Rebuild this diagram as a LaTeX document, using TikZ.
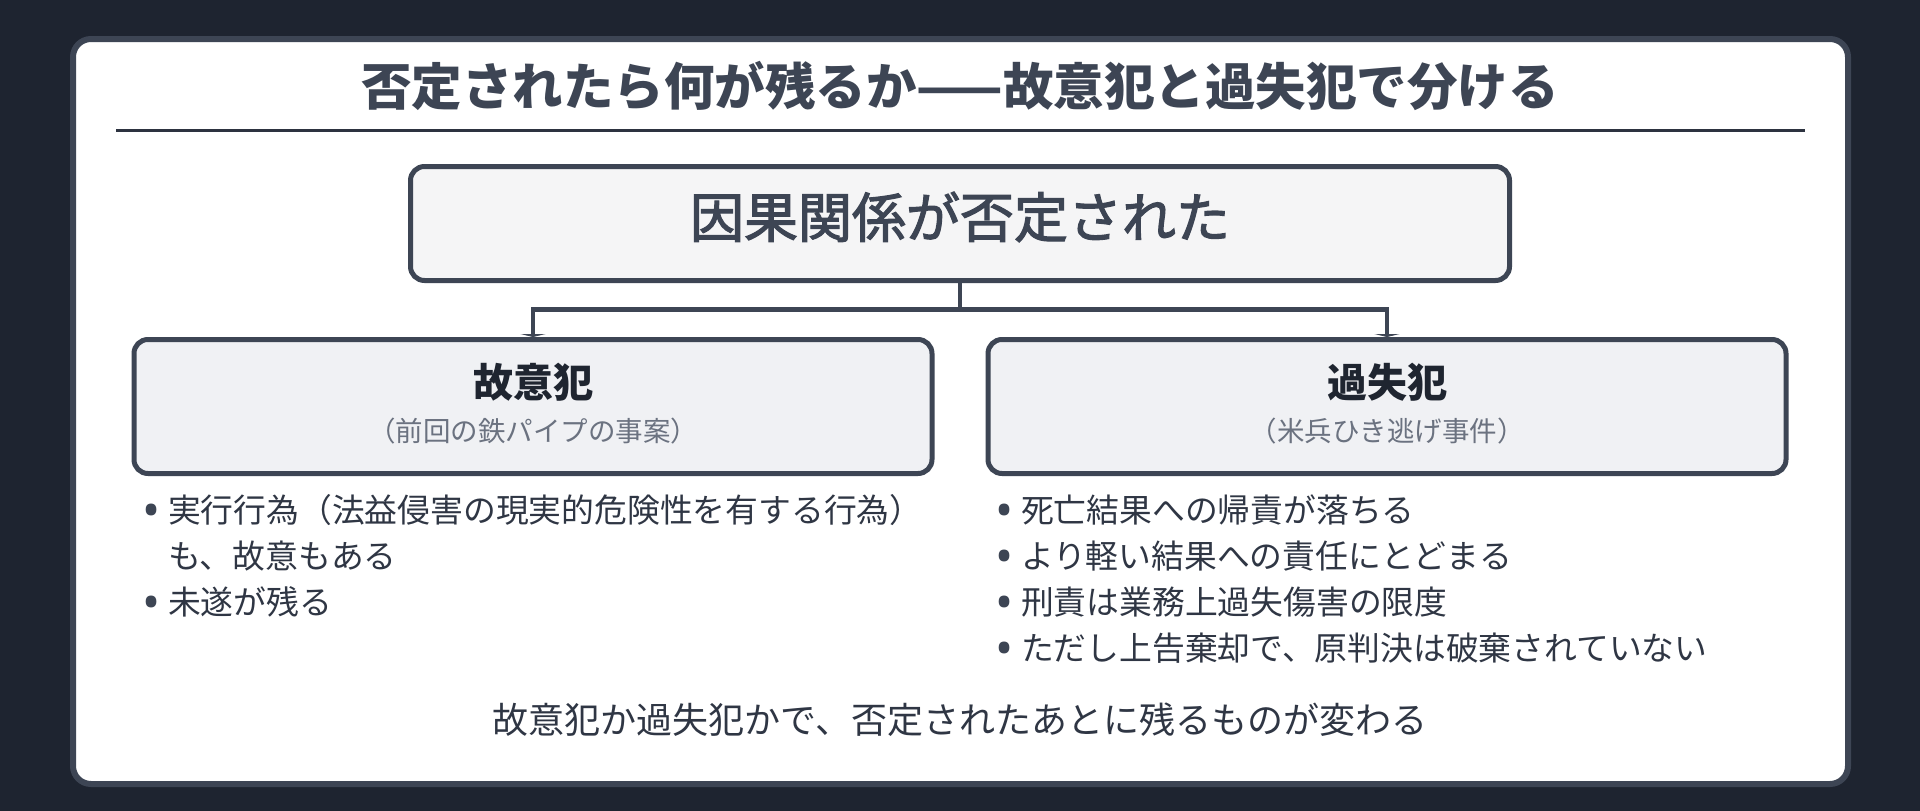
\documentclass[tikz,border=0pt]{standalone}
\usepackage{fontspec}
\setmainfont{Noto Sans CJK JP}
\newfontfamily\latinf{Noto Sans}
\newfontfamily\jpmed[FakeBold=2.2]{Noto Sans CJK JP}
\usetikzlibrary{arrows.meta}
\definecolor{bgdark}{HTML}{1E2430}
\definecolor{framec}{HTML}{3D4554}
\definecolor{rulec}{HTML}{2D3340}
\definecolor{topfill}{HTML}{F5F5F6}
\definecolor{boxfill}{HTML}{F0F1F4}
\definecolor{headc}{HTML}{1F2530}
\definecolor{subc}{HTML}{6B7280}
\definecolor{bodyc}{HTML}{2F3644}
\newcommand{\bul}{\makebox[20pt][c]{\raisebox{-5pt}{\fontsize{48}{48}\selectfont\latinf\color{framec}•}}\hspace{6pt}}
\begin{document}
\begin{tikzpicture}[x=1pt,y=-1pt,
  txt/.style={inner sep=0pt, outer sep=0pt},
  fs/.style={font=\fontsize{#1}{#1}\selectfont, text height=0.88*#1pt, text depth=0.12*#1pt},
  boxstyle/.style={draw=framec, line width=5pt, rounded corners=14pt, inner sep=0pt},
  conn/.style={draw=framec, line width=4.5pt},
  titlef/.style={txt, fs=50.5, font=\fontsize{50.5}{60}\selectfont\bfseries, text=framec},
  causef/.style={txt, fs=54, font=\fontsize{54}{64}\selectfont\jpmed, text=framec},
  headf/.style={txt, fs=40, font=\fontsize{40}{48}\selectfont\bfseries, text=headc},
  subf/.style={txt, fs=27.5, text=subc},
  bodyf/.style={txt, fs=32.8, text=bodyc, anchor=west},
  footf/.style={txt, fs=36, text=bodyc}]
\useasboundingbox (0,0) rectangle (1920,811);
\fill[bgdark] (0,0) rectangle (1920,811);
\draw[framec, line width=6pt, fill=white, rounded corners=18pt] (73,39) rectangle (1848,784);

\node[titlef] (title) at (960,86) {否定されたら何が残るか——故意犯と過失犯で分ける};
\coordinate (rl) at (116,130);
\coordinate (rr) at (1805,130);
\draw[rulec, line width=3pt] (rl) -- (rr);

\node[boxstyle, fill=topfill, minimum width=1099pt, minimum height=114pt] (cause) at (960,223.5) {};
\node[causef] (causet) at (960,217) {因果関係が否定された};

\node[boxstyle, fill=boxfill, minimum width=798pt, minimum height=134pt] (intent) at (533,406.5) {};
\node[boxstyle, fill=boxfill, minimum width=798pt, minimum height=134pt] (negl) at (1387,406.5) {};

\coordinate (fork) at (960,309.5);
\draw[conn] (cause.south) -- (fork);
\draw[conn, {Triangle[width=25pt,length=3pt]}-{Triangle[width=25pt,length=3pt]}] (intent.north) |- (fork) -| (negl.north);

\node[headf] (intenth) at (533,382) {故意犯};
\node[subf] (intents) at (533,431) {（前回の鉄パイプの事案）};
\node[headf] (neglh) at (1387,382) {過失犯};
\node[subf] (negls) at (1387,431) {（米兵ひき逃げ事件）};

\node[bodyf] (l1) at (142,510) {\bul 実行行為（法益侵害の現実的危険性を有する行為）};
\node[bodyf] (l2) at (168,556) {も、故意もある};
\node[bodyf] (l3) at (142,602) {\bul 未遂が残る};

\node[bodyf] (r1) at (995,510) {\bul 死亡結果への帰責が落ちる};
\node[bodyf] (r2) at (995,556) {\bul より軽い結果への責任にとどまる};
\node[bodyf] (r3) at (995,602) {\bul 刑責は業務上過失傷害の限度};
\node[bodyf] (r4) at (995,648) {\bul ただし上告棄却で、原判決は破棄されていない};

\node[footf] (foot) at (960,720) {故意犯か過失犯かで、否定されたあとに残るものが変わる};
\end{tikzpicture}
\end{document}
